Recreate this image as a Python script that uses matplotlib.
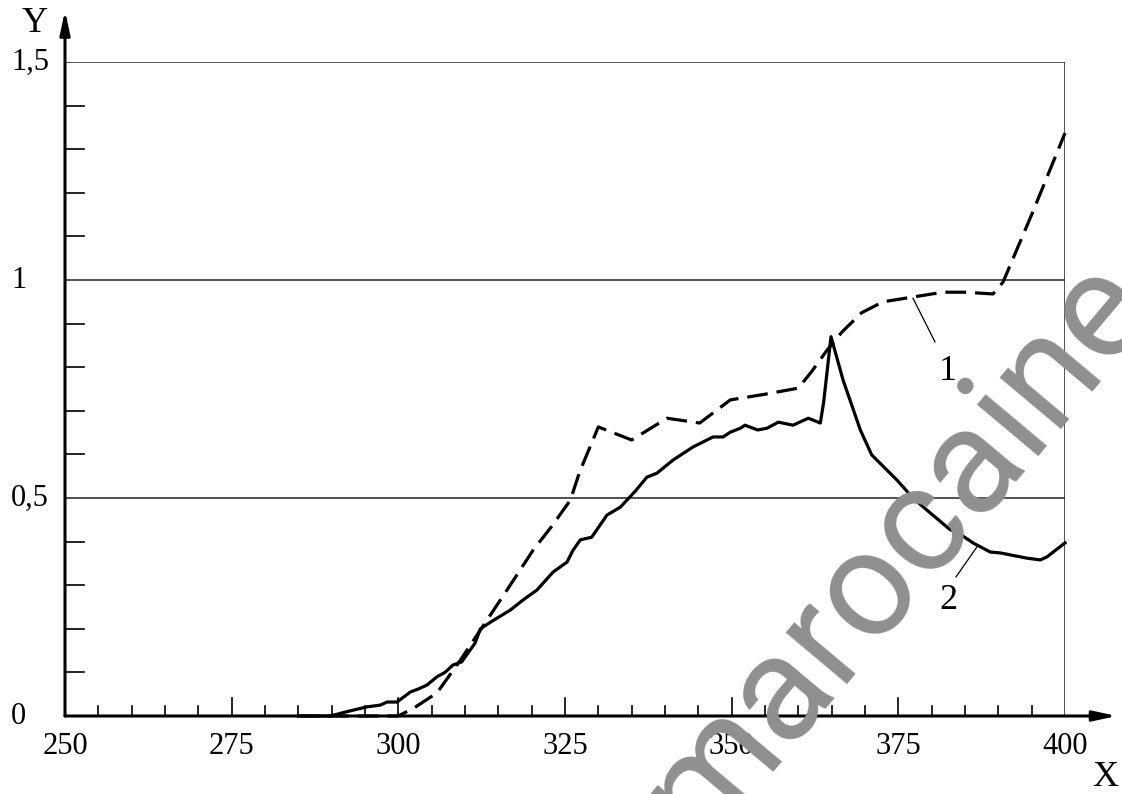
import matplotlib
matplotlib.use("Agg")
import matplotlib.pyplot as plt
import numpy as np

# Curve 1 (dashed)
x1 = [285, 290, 295, 300, 302.5, 305.8, 309.3, 312.3, 316.3, 320.2, 323, 325.8, 327.2,
      330, 335, 340.3, 345.2, 349.8, 355, 360, 362, 364.3, 366.5, 369.5, 372.7,
      377.2, 381.7, 385, 389.2, 390.7, 395, 400]
y1 = [0, 0, 0, 0, 0.02, 0.053, 0.128, 0.197, 0.289, 0.38, 0.435, 0.495, 0.56,
      0.663, 0.633, 0.683, 0.672, 0.725, 0.738, 0.752, 0.79, 0.839, 0.88, 0.925, 0.95,
      0.961, 0.972, 0.972, 0.968, 0.995, 1.15, 1.337]

# Curve 2 (solid)
x2 = [285, 289.8, 292.3, 295.3, 297.3, 298.3, 299.8, 301.8, 303, 304.3, 305.8, 307, 308.2,
      309.5, 311.5, 312.3, 313.8, 316.8, 318.7, 320.8, 323.2, 325.3, 326.2, 327.3, 329,
      331.3, 333.3, 335.5, 337.3, 338.8, 341.2, 344.2, 347.2, 348.7, 349.8, 351.3, 352,
      353.9, 355.3, 357, 359.2, 361.5, 363.3, 363.8, 364.9, 366.7, 369.3, 371, 374.8,
      377.2, 379.3, 382.8, 383.8, 386.2, 388.8, 390.3, 394.3, 396.3, 397.3, 400]
y2 = [0, 0, 0.01, 0.021, 0.025, 0.032, 0.032, 0.055, 0.062, 0.071, 0.09, 0.1, 0.117,
      0.124, 0.167, 0.2, 0.215, 0.243, 0.266, 0.289, 0.33, 0.353, 0.38, 0.404, 0.41,
      0.461, 0.479, 0.515, 0.548, 0.557, 0.587, 0.617, 0.64, 0.64, 0.651, 0.66, 0.667,
      0.656, 0.66, 0.674, 0.667, 0.683, 0.672, 0.72, 0.87, 0.771, 0.656, 0.599, 0.541,
      0.5, 0.472, 0.427, 0.422, 0.397, 0.376, 0.374, 0.362, 0.358, 0.365, 0.397]

x_ticklabels = ["250", "275", "300", "325", "350", "375", "400"]
y_ticklabels = ["0", "0,5", "1", "1,5"]
curve_labels = ["1", "2"]

W, H = 1122, 794
fig = plt.figure(figsize=(W / 100, H / 100), dpi=100)
ax = fig.add_axes([65 / W, (H - 716) / H, 1000 / W, 654 / H])
ax.set_xlim(250, 400)
ax.set_ylim(0, 1.5)
for s in ax.spines.values():
    s.set_visible(False)
ax.set_xticks([])
ax.set_yticks([])

serif = "Liberation Serif"
px_x = 150 / 1000.0   # data units per pixel in x
px_y = 1.5 / 654.0    # data units per pixel in y

# grid lines and right frame
for gy in [0.5, 1.0, 1.5]:
    ax.plot([250, 400], [gy, gy], color="#222222", lw=1.1, zorder=2)
ax.plot([400, 400], [0, 1.5], color="#222222", lw=1.1, zorder=2)

# ticks
for xv in np.arange(255, 400, 5):
    L = 18 if xv % 25 == 0 else 10
    ax.plot([xv, xv], [0, L * px_y], color="black", lw=1.2, zorder=3, clip_on=False)
for yv in np.arange(0.1, 1.5, 0.1):
    if abs(yv - 0.5) < 1e-6 or abs(yv - 1.0) < 1e-6:
        continue
    ax.plot([250, 250 + 19 * px_x], [yv, yv], color="black", lw=1.2, zorder=3, clip_on=False)

# axes with arrows
ax.annotate("", xy=(250, 1.618), xytext=(250, 0), xycoords="data",
            arrowprops=dict(arrowstyle="-|>,head_length=1.4,head_width=0.3", color="black",
                            lw=2.2, shrinkA=0, shrinkB=0), annotation_clip=False, zorder=4)
ax.annotate("", xy=(407.8, 0), xytext=(250, 0), xycoords="data",
            arrowprops=dict(arrowstyle="-|>,head_length=1.4,head_width=0.3", color="black",
                            lw=2.2, shrinkA=0, shrinkB=0), annotation_clip=False, zorder=4)

# tick labels
for i, lab in enumerate(x_ticklabels):
    ax.text(250 + 25 * i, -30 * px_y, lab, ha="center", va="center",
            fontsize=22, family=serif, clip_on=False)
for i, lab in enumerate(y_ticklabels):
    ax.text(250 - 54 * px_x, 0.5 * i, lab, ha="left", va="center",
            fontsize=22, family=serif, clip_on=False)
ax.text(250 - 30 * px_x, 1.589, "Y", ha="center", va="center", fontsize=26,
        family=serif, clip_on=False)
ax.text(406, -0.14, "X", ha="center", va="center", fontsize=26,
        family=serif, clip_on=False)

# curves
ax.plot(x1, y1, color="black", lw=2.3, dashes=(6.5, 2.8), zorder=5, clip_on=False)
ax.plot(x2, y2, color="black", lw=2.3, zorder=5, clip_on=False, solid_joinstyle="round")

# curve annotations
ax.plot([377.2, 380.5], [0.958, 0.858], color="black", lw=0.9, zorder=5)
ax.text(382.45, 0.789, curve_labels[0], ha="center", va="center", fontsize=26, family=serif)
ax.plot([386.8, 383.65], [0.388, 0.319], color="black", lw=0.9, zorder=5)
ax.text(382.45, 0.266, curve_labels[1], ha="center", va="center", fontsize=26, family=serif)

# watermark
fig.text(897 / W, 1 - 549 / H, "marocaine", fontsize=108, family="Roboto",
         color="#8f8f8f", rotation=50, ha="center", va="center",
         rotation_mode="anchor", zorder=1)

fig.savefig("out.png", dpi=100)
